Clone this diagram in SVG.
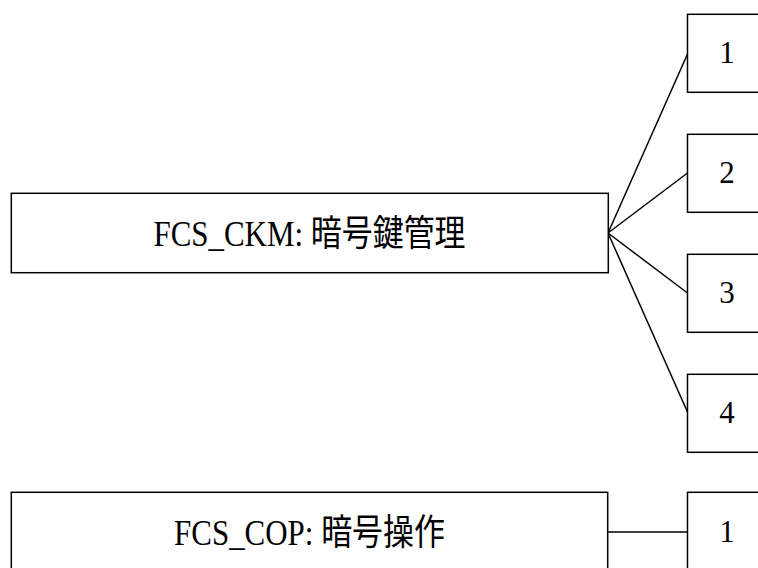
<svg xmlns="http://www.w3.org/2000/svg" width="758" height="568" viewBox="0 0 758 568">
<style>
.box{fill:#fff;stroke:#000;stroke-width:1.5}
.ln{fill:none;stroke:#000;stroke-width:1.5}
.t{font-family:"Liberation Serif","Noto Sans CJK JP",serif;font-size:36px;fill:#000;text-anchor:middle}
.j{font-family:"Noto Sans CJK JP","Liberation Sans",sans-serif}
.d{font-family:"Liberation Serif",serif;font-size:31px;fill:#000;text-anchor:middle}
</style>
<rect width="758" height="568" fill="#fff"/>
<g id="connectors">
<line class="ln" x1="608" y1="233" x2="687.5" y2="54"/>
<line class="ln" x1="608" y1="233" x2="687.5" y2="173"/>
<line class="ln" x1="608" y1="233" x2="687.5" y2="293"/>
<line class="ln" x1="608" y1="233" x2="687.5" y2="412"/>
<line class="ln" x1="608" y1="532" x2="687.5" y2="532"/>
</g>
<g id="ckm">
<rect class="box" x="11.3" y="193.3" width="597" height="79.4"/>
<text class="t" transform="translate(309.5,245.7) scale(0.86,1)">FCS_CKM: <tspan class="j">暗号鍵管理</tspan></text>
</g>
<g id="ckm1">
<rect class="box" x="687.5" y="14.3" width="100" height="78"/>
<text class="d" x="727" y="63.3">1</text>
</g>
<g id="ckm2">
<rect class="box" x="687.5" y="134.3" width="100" height="78"/>
<text class="d" x="727" y="183.3">2</text>
</g>
<g id="ckm3">
<rect class="box" x="687.5" y="254.3" width="100" height="78"/>
<text class="d" x="727" y="303.3">3</text>
</g>
<g id="ckm4">
<rect class="box" x="687.5" y="374.3" width="100" height="78"/>
<text class="d" x="727" y="423.3">4</text>
</g>
<g id="cop">
<rect class="box" x="11.3" y="492.3" width="596.4" height="100"/>
<text class="t" transform="translate(309.5,544.7) scale(0.86,1)">FCS_COP: <tspan class="j">暗号操作</tspan></text>
</g>
<g id="cop1">
<rect class="box" x="687.5" y="492.3" width="100" height="100"/>
<text class="d" x="727" y="541.5">1</text>
</g>
</svg>
